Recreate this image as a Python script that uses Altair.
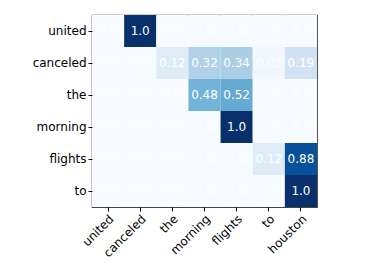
import altair as alt
import pandas as pd

cols = ["united", "canceled", "the", "morning", "flights", "to", "houston"]
rows = ["united", "canceled", "the", "morning", "flights", "to"]
r_united = [0.0, 1.0, 0.0, 0.0, 0.0, 0.0, 0.0]
r_canceled = [0.0, 0.0, 0.12, 0.32, 0.34, 0.03, 0.19]
r_the = [0.0, 0.0, 0.0, 0.48, 0.52, 0.0, 0.0]
r_morning = [0.0, 0.0, 0.0, 0.0, 1.0, 0.0, 0.0]
r_flights = [0.0, 0.0, 0.0, 0.0, 0.0, 0.12, 0.88]
r_to = [0.0, 0.0, 0.0, 0.0, 0.0, 0.0, 1.0]
matrix = [r_united, r_canceled, r_the, r_morning, r_flights, r_to]

blues = ["#f7fbff", "#deebf7", "#c6dbef", "#9ecae1", "#6baed6",
         "#4292c6", "#2171b5", "#08519c", "#08306b"]
stops = [i / 8 for i in range(9)]

recs = []
for ri, r in enumerate(rows):
    for ci, c in enumerate(cols):
        v = matrix[ri][ci]
        recs.append({"row": r, "col": c, "ri": ri, "ci": ci, "v": v, "label": str(v)})
df = pd.DataFrame(recs)

FONT = "DejaVu Sans"

x = alt.X("ci:O", scale=alt.Scale(domain=list(range(7)), paddingInner=0, paddingOuter=0),
          axis=alt.Axis(title=None, labelExpr="%s[datum.value]" % str(cols),
                        labelAngle=-45, labelAlign="right", labelBaseline="top",
                        labelFont=FONT, labelFontSize=12, labelColor="black",
                        tickColor="black", tickSize=4, labelPadding=2,
                        domain=False, labelOverlap=False))
y = alt.Y("ri:O", scale=alt.Scale(domain=list(range(6)), paddingInner=0, paddingOuter=0),
          axis=alt.Axis(title=None, labelExpr="%s[datum.value]" % str(rows),
                        labelFont=FONT, labelFontSize=12, labelColor="black",
                        tickColor="black", tickSize=4, labelPadding=2,
                        domain=False))

base = alt.Chart(df).encode(x=x, y=y)

rect = base.mark_rect().encode(
    color=alt.Color("v:Q", scale=alt.Scale(domain=stops, range=blues), legend=None)
)
text = base.mark_text(font=FONT, fontSize=12, color="white").encode(text="label:N")

chart = (rect + text).properties(
    width=225, height=192,
    padding={"left": 24, "top": 7, "right": 5, "bottom": 5},
).configure_view(stroke="#444", strokeWidth=1.2)

chart.save("out.html", embed_options={"renderer": "svg", "actions": False})
